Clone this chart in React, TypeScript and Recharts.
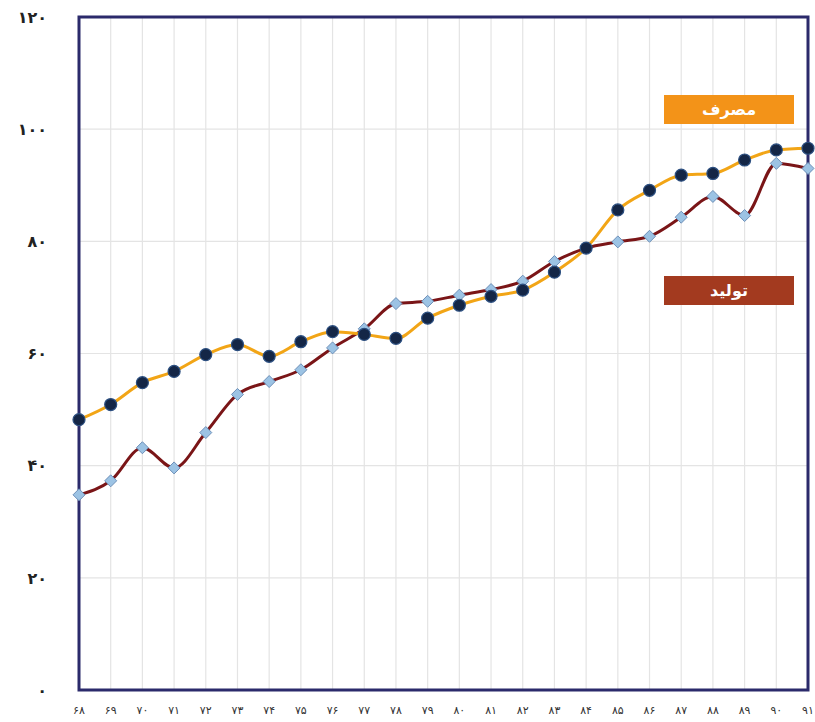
import React from 'react';
import { LineChart, Line, XAxis, YAxis, CartesianGrid, ReferenceArea } from 'recharts';

const years = ['68', '69', '70', '71', '72', '73', '74', '75', '76', '77', '78', '79', '80', '81', '82', '83', '84', '85', '86', '87', '88', '89', '90', '91'];
const consumption = [48.2, 50.9, 54.8, 56.8, 59.8, 61.6, 59.5, 62.1, 63.9, 63.4, 62.7, 66.3, 68.6, 70.2, 71.3, 74.5, 78.8, 85.6, 89.1, 91.8, 92.1, 94.5, 96.3, 96.6];
const production = [34.8, 37.3, 43.2, 39.6, 45.9, 52.7, 55.0, 57.1, 61.0, 64.4, 68.9, 69.3, 70.4, 71.4, 72.9, 76.4, 78.8, 79.9, 80.9, 84.3, 88.0, 84.6, 93.9, 93.0];
const yTicks = [0, 20, 40, 60, 80, 100, 120];
const seriesNames = { consumption: 'مصرف', production: 'تولید' };

const data = years.map((y, i) => ({ year: y, consumption: consumption[i], production: production[i] }));

const faDigits = '۰۱۲۳۴۵۶۷۸۹';
const toFa = (v: any) => String(v).replace(/[0-9]/g, (d) => faDigits[Number(d)]);

const CircleDot = (props: any) => {
  const { cx, cy, index } = props;
  if (cx == null || cy == null) return <g key={`c${index}`} />;
  return <circle key={`c${index}`} cx={cx} cy={cy} r={6} fill="#142646" stroke="#2c4f80" strokeWidth={1.2} />;
};

const DiamondDot = (props: any) => {
  const { cx, cy, index } = props;
  if (cx == null || cy == null) return <g key={`d${index}`} />;
  const s = 6;
  return (
    <polygon
      key={`d${index}`}
      points={`${cx},${cy - s} ${cx + s},${cy} ${cx},${cy + s} ${cx - s},${cy}`}
      fill="#9cc3e4"
      stroke="#6d8fb8"
      strokeWidth={1}
    />
  );
};

const legendBox = (bg: string, top: number): React.CSSProperties => ({
  position: 'absolute',
  left: 664,
  top,
  width: 130,
  height: 29,
  background: bg,
  color: '#ffffff',
  fontFamily: '"DejaVu Sans", sans-serif',
  fontWeight: 'bold',
  fontSize: 16,
  display: 'flex',
  alignItems: 'center',
  justifyContent: 'center',
  direction: 'rtl',
});

export default function App() {
  return (
    <div style={{ position: 'fixed', left: 0, top: 0, width: 815, height: 722, background: '#ffffff' }}>
      <LineChart width={815} height={722} data={data} margin={{ top: 17, right: 7, bottom: 0, left: 0 }}>
        <CartesianGrid stroke="#e4e4e4" strokeWidth={1.2} />
        <ReferenceArea x1="68" x2="91" y1={0} y2={120} fill="none" stroke="#2b2a6b" strokeWidth={3} ifOverflow="visible" />
        <XAxis
          dataKey="year"
          height={32}
          axisLine={false}
          tickLine={false}
          tickSize={0}
          tickMargin={16}
          interval={0}
          tickFormatter={toFa}
          tick={{ fontSize: 11, fill: '#333', letterSpacing: 1, fontFamily: '"DejaVu Sans", sans-serif' }}
        />
        <YAxis
          type="number"
          domain={[0, 120]}
          ticks={yTicks}
          width={79}
          axisLine={false}
          tickLine={false}
          tickSize={0}
          tickMargin={32}
          tickFormatter={toFa}
          tick={{ fontSize: 16, fill: '#222', fontWeight: 'bold', letterSpacing: 8, fontFamily: '"DejaVu Sans", sans-serif' }}
        />
        <Line
          dataKey="production"
          name={seriesNames.production}
          type="monotone"
          stroke="#7a1517"
          strokeWidth={3}
          dot={DiamondDot}
          isAnimationActive={false}
        />
        <Line
          dataKey="consumption"
          name={seriesNames.consumption}
          type="monotone"
          stroke="#f2a516"
          strokeWidth={3}
          dot={CircleDot}
          isAnimationActive={false}
        />
      </LineChart>
      <div style={legendBox('#f39318', 95)}>{seriesNames.consumption}</div>
      <div style={legendBox('#a33a1f', 276)}>{seriesNames.production}</div>
    </div>
  );
}
